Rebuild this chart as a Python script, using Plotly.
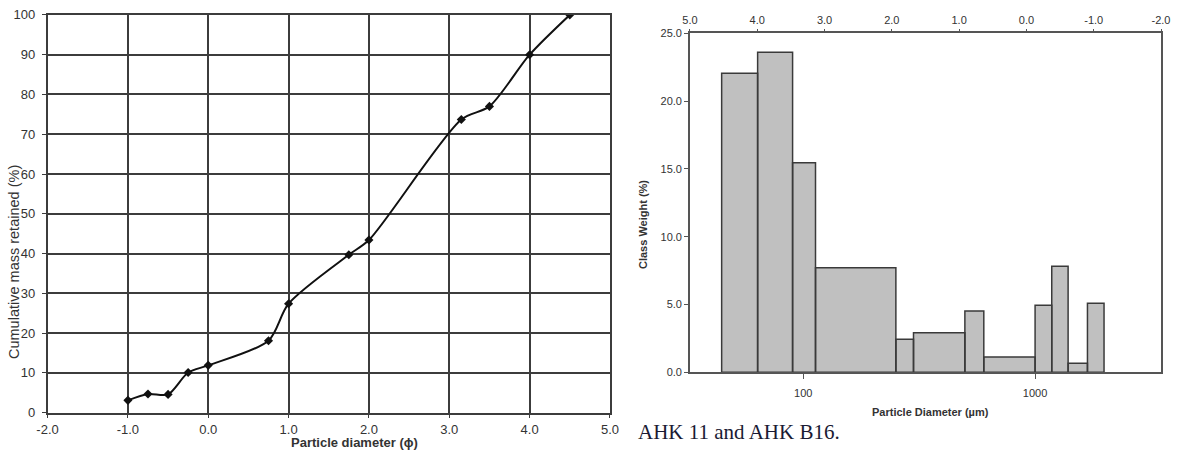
import plotly.graph_objects as go

# ---- Left chart: cumulative curve ----
phi = [-1.0, -0.75, -0.5, -0.25, 0.0, 0.75, 1.0, 1.75, 2.0, 3.15, 3.5, 4.0, 4.5]
cum_pct = [3.1, 4.7, 4.6, 10.1, 11.9, 18.1, 27.4, 39.7, 43.4, 73.7, 77.0, 90.0, 100.0]
left_x_ticks = [-2, -1, 0, 1, 2, 3, 4, 5]

# ---- Right chart: histogram (class edges in µm, weights in %) ----
edges_um = [44.5, 63.6, 90, 113, 251, 299, 498, 601, 1000, 1180, 1388, 1682, 1983]
class_wt = [22.05, 23.6, 15.46, 7.71, 2.43, 2.92, 4.52, 1.13, 4.94, 7.82, 0.66, 5.09]
top_phi_ticks = [5, 4, 3, 2, 1, 0, -1, -2]
bottom_um_ticks = [100, 1000]


def fmt(v):
    return f"{v:.1f}"


fig = go.Figure()

fig.add_trace(go.Scatter(
    x=phi, y=cum_pct, mode="lines+markers",
    line=dict(color="#111111", width=2, shape="spline", smoothing=0.8),
    marker=dict(symbol="diamond", size=7, color="#111111"),
    xaxis="x", yaxis="y", showlegend=False, hoverinfo="skip"))

# bars as closed polygons on the log axis
bx, by = [], []
for i, w in enumerate(class_wt):
    a, b = edges_um[i], edges_um[i + 1]
    bx += [a, a, b, b, a, None]
    by += [0, w, w, 0, 0, None]
fig.add_trace(go.Scatter(
    x=bx, y=by, mode="lines", fill="toself", fillcolor="#c0c0c0",
    line=dict(color="#3a3a3a", width=1.5),
    xaxis="x2", yaxis="y2", showlegend=False, hoverinfo="skip"))

fig.add_trace(go.Scatter(
    x=top_phi_ticks, y=[0] * len(top_phi_ticks), mode="markers",
    marker=dict(opacity=0), xaxis="x3", yaxis="y2",
    showlegend=False, hoverinfo="skip"))

lfont = dict(family="Liberation Sans, Arial", size=13, color="#333333")
rfont = dict(family="Liberation Sans, Arial", size=11, color="#333333")

fig.update_layout(
    width=1180, height=452,
    margin=dict(l=0, r=0, t=0, b=0),
    paper_bgcolor="white", plot_bgcolor="white",
    xaxis=dict(domain=[0.0403, 0.5169], range=[-2, 5],
               tickvals=left_x_ticks, ticktext=[fmt(v) for v in left_x_ticks],
               showgrid=True, gridcolor="#3c3c3c", gridwidth=1.6,
               showline=True, linecolor="#3c3c3c", linewidth=1.6, mirror=True,
               ticks="outside", ticklen=4, tickcolor="#3c3c3c", tickfont=lfont,
               zeroline=False, anchor="y", fixedrange=True, automargin=False),
    yaxis=dict(domain=[0.087, 0.967], range=[0, 100], dtick=10,
               showgrid=True, gridcolor="#3c3c3c", gridwidth=1.6,
               showline=True, linecolor="#3c3c3c", linewidth=1.6, mirror=True,
               ticks="outside", ticklen=4, tickcolor="#3c3c3c", tickfont=lfont,
               ticklabelstandoff=4,
               zeroline=False, anchor="x", fixedrange=True, automargin=False),
    xaxis2=dict(domain=[0.5847, 0.9839], type="log", range=[1.5116, 3.543],
                tickvals=bottom_um_ticks, ticktext=[str(v) for v in bottom_um_ticks],
                showgrid=False, showline=True, linecolor="#555555", linewidth=1.5,
                ticks="outside", ticklen=5, tickcolor="#555555", tickfont=rfont,
                ticklabelstandoff=5,
                zeroline=False, anchor="y2", fixedrange=True, automargin=False),
    xaxis3=dict(overlaying="x2", side="top", range=[5, -2],
                tickvals=top_phi_ticks, ticktext=[fmt(v) for v in top_phi_ticks],
                showgrid=False, showline=True,
                linecolor="#555555", linewidth=1.5, ticks="outside", ticklen=3,
                tickcolor="#555555", tickfont=rfont, zeroline=False,
                anchor="y2", fixedrange=True, automargin=False),
    yaxis2=dict(domain=[0.1763, 0.9263], range=[0, 25], dtick=5,
                tickformat=".1f", showgrid=False, showline=True,
                linecolor="#555555", linewidth=1.5, mirror=True,
                ticks="outside", ticklen=4, tickcolor="#555555", tickfont=rfont,
                zeroline=False, anchor="x2", fixedrange=True, automargin=False),
    annotations=[
        dict(text="Cumulative mass retained (%)", xref="paper", yref="paper",
             x=14 / 1180, y=1 - 262 / 452, textangle=-90, showarrow=False,
             xanchor="center", yanchor="middle",
             font=dict(family="Liberation Sans, Arial", size=14.5, color="#333333")),
        dict(text="<b>Particle diameter (ϕ)</b>", xref="paper", yref="paper",
             x=354 / 1180, y=1 - 442 / 452, showarrow=False,
             xanchor="center", yanchor="middle",
             font=dict(family="Liberation Sans, Arial", size=13, color="#333333")),
        dict(text="<b>Class Weight (%)</b>", xref="paper", yref="paper",
             x=643 / 1180, y=1 - 225 / 452, textangle=-90, showarrow=False,
             xanchor="center", yanchor="middle",
             font=dict(family="Liberation Sans, Arial", size=11, color="#333333")),
        dict(text="<b>Particle Diameter (µm)</b>", xref="paper", yref="paper",
             x=930 / 1180, y=1 - 411.5 / 452, showarrow=False,
             xanchor="center", yanchor="middle",
             font=dict(family="Liberation Sans, Arial", size=11, color="#333333")),
        dict(text="AHK 11 and AHK B16.", xref="paper", yref="paper",
             x=636 / 1180, y=1 - 432 / 452, xanchor="left", yanchor="middle",
             showarrow=False,
             font=dict(family="Liberation Serif, Times New Roman", size=21, color="#1a1a33")),
    ],
)

fig.write_html("out.html")
